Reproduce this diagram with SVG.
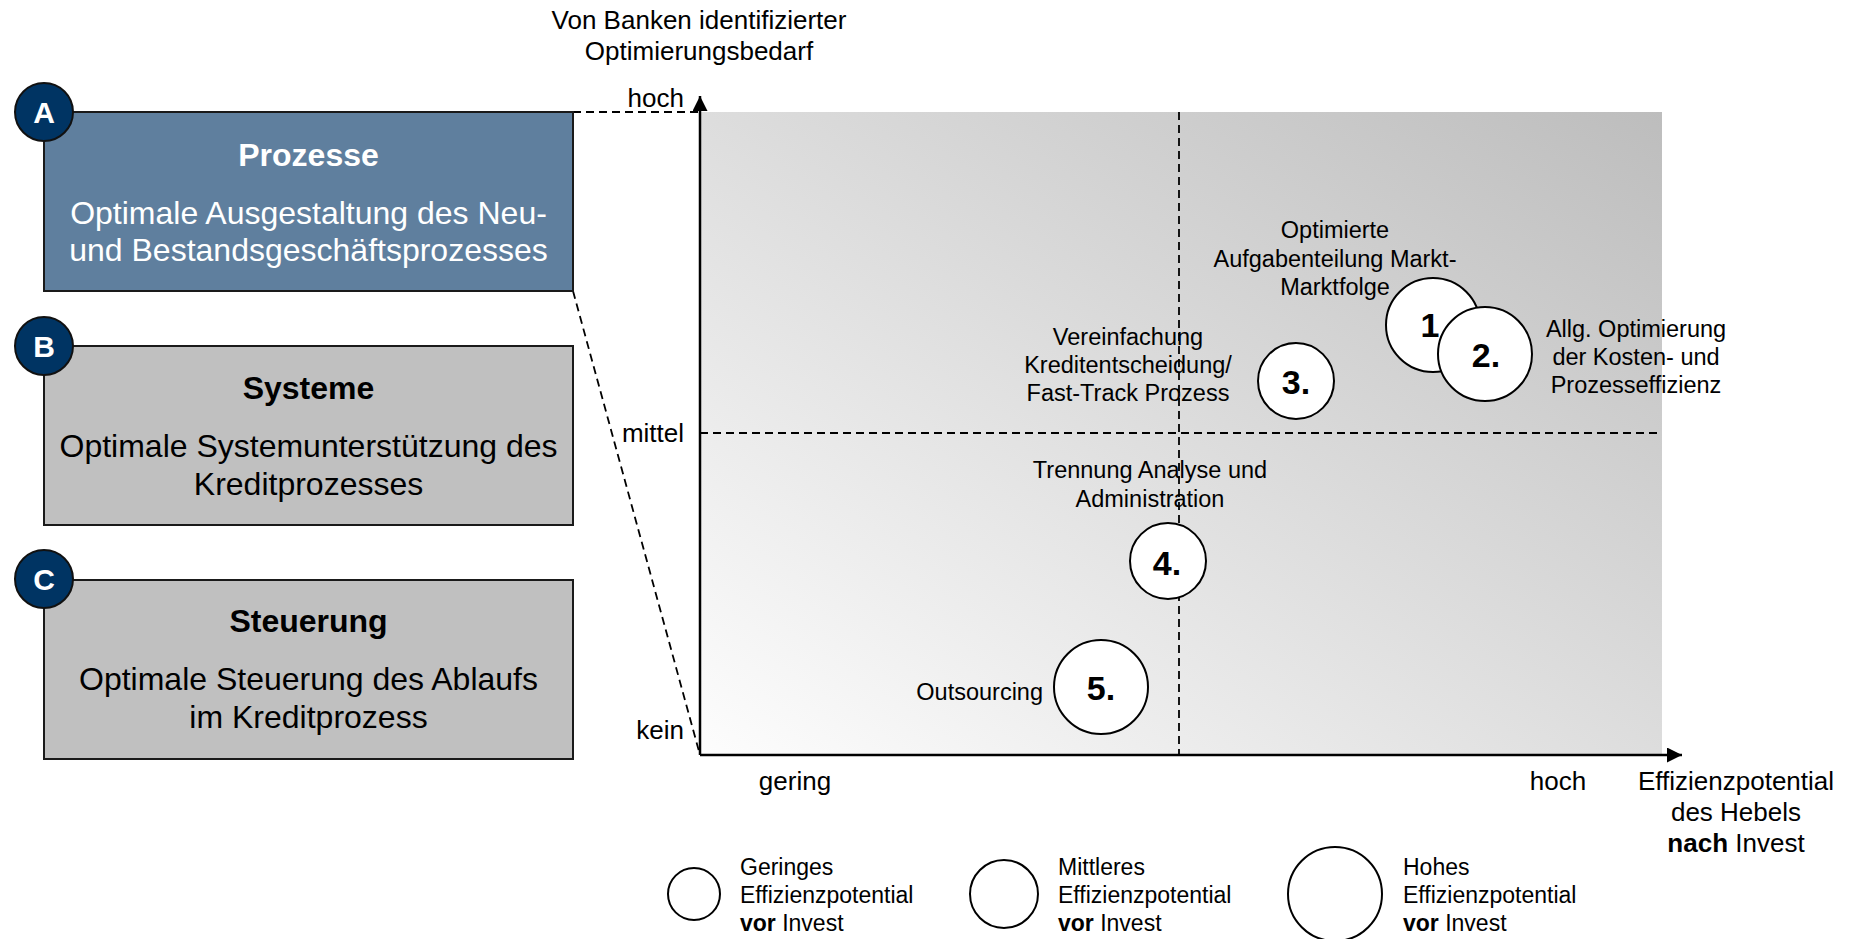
<svg xmlns="http://www.w3.org/2000/svg" width="1856" height="939" viewBox="0 0 1856 939">
<style>
text{font-family:"Liberation Sans",Arial,Helvetica,sans-serif;fill:#000}
.box{stroke:#1a1a1a;stroke-width:2}
.badge{fill:#003463;stroke:#111;stroke-width:2}
.badgeT{font-size:30px;font-weight:bold;fill:#fff;text-anchor:middle}
.title{font-size:32px;font-weight:bold;text-anchor:middle}
.body{font-size:32px;text-anchor:middle}
.ax{font-size:26px}
.lbl{font-size:23.5px;text-anchor:middle}
.bub{fill:#fff;stroke:#000;stroke-width:2}
.num{font-size:34px;font-weight:bold;text-anchor:middle}
.dash{fill:none;stroke:#000;stroke-width:1.8;stroke-dasharray:8 5}
.axis{stroke:#000;stroke-width:2.5;fill:none}
.leg{font-size:23px}
</style>
<defs>
<linearGradient id="bg" x1="0" y1="1" x2="1" y2="0">
<stop offset="0" stop-color="#fdfdfd"/>
<stop offset="1" stop-color="#bdbdbd"/>
</linearGradient>
<marker id="arr" viewBox="0 0 10 10" refX="10" refY="5" markerWidth="6" markerHeight="6" orient="auto" markerUnits="strokeWidth">
<path d="M0,0 L10,5 L0,10 z" fill="#000"/>
</marker>
</defs>

<rect id="chart-bg" x="700" y="112" width="962" height="643" fill="url(#bg)"/>

<g id="connectors">
<path class="dash" d="M573,112 H698"/>
<path class="dash" d="M573,291 L700,755"/>
<path class="dash" d="M1179,112 V755"/>
<path class="dash" d="M700,433 H1662"/>
<path class="axis" d="M700,755 V96" marker-end="url(#arr)"/>
<path class="axis" d="M700,755 H1682" marker-end="url(#arr)"/>
</g>

<g id="box-a">
<rect class="box" x="44" y="112" width="529" height="179" fill="#5f7f9e"/>
<text class="title" x="308.5" y="166" style="fill:#fff">Prozesse</text>
<text class="body" x="308.5" y="224" style="fill:#fff">Optimale Ausgestaltung des Neu-</text>
<text class="body" x="308.5" y="261" style="fill:#fff">und Bestandsgeschäftsprozesses</text>
<circle class="badge" cx="44" cy="112" r="29"/>
<text class="badgeT" x="44" y="123">A</text>
</g>

<g id="box-b">
<rect class="box" x="44" y="346" width="529" height="179" fill="#c0c0c0"/>
<text class="title" x="308.5" y="399">Systeme</text>
<text class="body" x="308.5" y="457">Optimale Systemunterstützung des</text>
<text class="body" x="308.5" y="495">Kreditprozesses</text>
<circle class="badge" cx="44" cy="346" r="29"/>
<text class="badgeT" x="44" y="357">B</text>
</g>

<g id="box-c">
<rect class="box" x="44" y="580" width="529" height="179" fill="#c0c0c0"/>
<text class="title" x="308.5" y="632">Steuerung</text>
<text class="body" x="308.5" y="690">Optimale Steuerung des Ablaufs</text>
<text class="body" x="308.5" y="728">im Kreditprozess</text>
<circle class="badge" cx="44" cy="579" r="29"/>
<text class="badgeT" x="44" y="590">C</text>
</g>

<g id="axis-labels">
<text class="ax" x="699" y="29" text-anchor="middle">Von Banken identifizierter</text>
<text class="ax" x="699" y="60" text-anchor="middle">Optimierungsbedarf</text>
<text class="ax" x="684" y="107" text-anchor="end">hoch</text>
<text class="ax" x="684" y="442" text-anchor="end">mittel</text>
<text class="ax" x="684" y="739" text-anchor="end">kein</text>
<text class="ax" x="795" y="790" text-anchor="middle">gering</text>
<text class="ax" x="1558" y="790" text-anchor="middle">hoch</text>
<text class="ax" x="1736" y="790" text-anchor="middle">Effizienzpotential</text>
<text class="ax" x="1736" y="821" text-anchor="middle">des Hebels</text>
<text class="ax" x="1736" y="852" text-anchor="middle"><tspan font-weight="bold">nach</tspan> Invest</text>
</g>

<g id="item-1">
<text class="lbl" x="1335" y="238">Optimierte</text>
<text class="lbl" x="1335" y="267">Aufgabenteilung Markt-</text>
<text class="lbl" x="1335" y="295">Marktfolge</text>
<circle class="bub" cx="1433" cy="325" r="47"/>
<text class="num" x="1430" y="337">1</text>
</g>

<g id="item-2">
<circle class="bub" cx="1485" cy="354" r="47"/>
<text class="num" x="1486" y="367">2.</text>
<text class="lbl" x="1636" y="337">Allg. Optimierung</text>
<text class="lbl" x="1636" y="365">der Kosten- und</text>
<text class="lbl" x="1636" y="393">Prozesseffizienz</text>
</g>

<g id="item-3">
<text class="lbl" x="1128" y="345">Vereinfachung</text>
<text class="lbl" x="1128" y="373">Kreditentscheidung/</text>
<text class="lbl" x="1128" y="401">Fast-Track Prozess</text>
<circle class="bub" cx="1296" cy="381" r="38"/>
<text class="num" x="1296" y="394">3.</text>
</g>

<g id="item-4">
<text class="lbl" x="1150" y="478">Trennung Analyse und</text>
<text class="lbl" x="1150" y="507">Administration</text>
<circle class="bub" cx="1168" cy="561" r="38"/>
<text class="num" x="1167" y="575">4.</text>
</g>

<g id="item-5">
<text class="lbl" x="1043" y="700" text-anchor="end" style="text-anchor:end">Outsourcing</text>
<circle class="bub" cx="1101" cy="687" r="47"/>
<text class="num" x="1101" y="700">5.</text>
</g>

<g id="legend-small">
<circle class="bub" cx="694" cy="894" r="26"/>
<text class="leg" x="740" y="875">Geringes</text>
<text class="leg" x="740" y="903">Effizienzpotential</text>
<text class="leg" x="740" y="931"><tspan font-weight="bold">vor</tspan> Invest</text>
</g>

<g id="legend-medium">
<circle class="bub" cx="1004" cy="894" r="34"/>
<text class="leg" x="1058" y="875">Mittleres</text>
<text class="leg" x="1058" y="903">Effizienzpotential</text>
<text class="leg" x="1058" y="931"><tspan font-weight="bold">vor</tspan> Invest</text>
</g>

<g id="legend-large">
<circle class="bub" cx="1335" cy="894" r="47"/>
<text class="leg" x="1403" y="875">Hohes</text>
<text class="leg" x="1403" y="903">Effizienzpotential</text>
<text class="leg" x="1403" y="931"><tspan font-weight="bold">vor</tspan> Invest</text>
</g>
</svg>
